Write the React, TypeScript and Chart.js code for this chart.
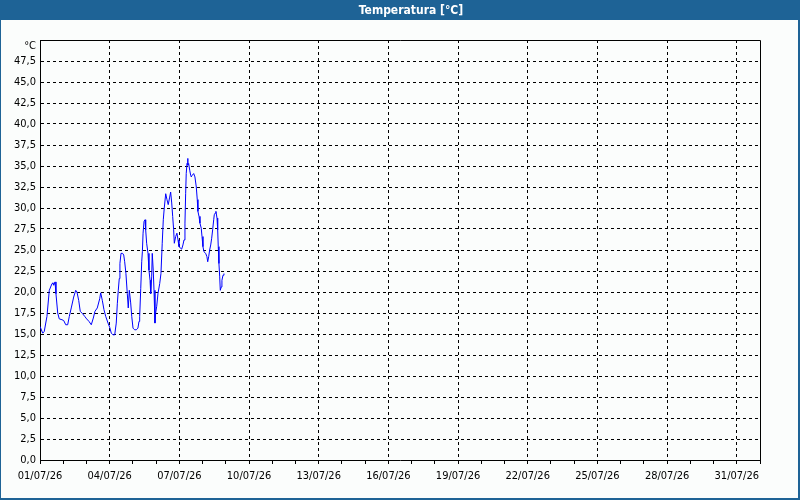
import React, { useEffect, useRef } from 'react';
import { Chart, registerables } from 'chart.js';

Chart.register(...registerables);

const TITLE = 'Temperatura [°C]';
const UNIT = '°C';

// hours since 01/07/26 00:00
const HOURS = [
  0, 2.8, 4.4, 7.2, 9.6, 12.4, 13.4, 14.2, 15.5, 16.5,
  18.3, 19.9, 22.7, 24.5, 26.6, 28.6, 30.3, 32.3, 34.8, 36.9,
  38.2, 40.0, 41.6, 44.1, 46.2, 48.2, 50.6, 53.0, 55.1, 56.8,
  59.2, 61.7, 62.7, 64.4, 66.1, 67.9, 70.3, 72.0, 73.7, 75.4,
  77.2, 78.8, 79.9, 80.9, 81.9, 82.6, 83.7, 85.4, 86.5, 87.5,
  88.8, 90.2, 91.2, 92.3, 93.7, 94.8, 96.1, 97.8, 99.5, 101.2,
  102.3, 103.0, 104.1, 105.1, 105.8, 106.5, 107.5, 108.5, 109.2, 110.2,
  111.6, 112.6, 113.7, 114.4, 115.4, 116.0, 117.0, 117.8, 118.8, 119.5,
  120.6, 121.9, 123.7, 125.0, 126.3, 127.4, 128.4, 129.9, 131.2, 132.5,
  134.0, 135.0, 136.1, 137.1, 138.1, 138.8, 140.2, 141.5, 142.6, 143.6,
  146.4, 147.7, 148.8, 149.8, 150.5, 151.1, 151.9, 152.6, 152.9, 153.6,
  154.7, 155.7, 156.3, 157.3, 158.8, 160.1, 161.5, 162.5, 163.2, 164.3,
  165.3, 166.6, 167.4, 168.4, 169.4, 171.2, 172.5, 173.3, 174.3, 175.3,
  176.4, 177.4, 178.4, 179.5, 180.1, 181.1, 181.8, 182.9, 183.6, 184.2,
  184.9, 185.7, 186.3, 187.3, 188.0, 189.1, 190.1,
];

const TEMPS = [
  15.9, 15.1, 15.3, 17.1, 20.2, 21.0, 21.1, 20.8, 21.2, 19.8,
  17.5, 16.8, 16.7, 16.6, 16.1, 16.1, 17.1, 18.1, 19.4, 20.2,
  20.0, 19.0, 17.7, 17.4, 17.1, 16.8, 16.5, 16.1, 16.9, 17.7,
  18.1, 19.2, 19.9, 19.0, 17.9, 17.1, 16.3, 15.8, 15.1, 14.9,
  14.9, 16.3, 18.6, 20.2, 21.6, 23.4, 24.6, 24.6, 24.4, 23.6,
  22.2, 19.8, 18.1, 20.2, 18.7, 17.1, 15.7, 15.5, 15.5, 15.7,
  16.5, 17.1, 20.4, 23.6, 24.8, 27.0, 28.4, 28.6, 27.4, 25.8,
  24.6, 22.6, 21.4, 19.8, 21.8, 24.6, 22.6, 20.2, 16.3, 17.5,
  18.3, 19.8, 21.0, 22.2, 25.8, 28.6, 30.0, 31.7, 31.0, 30.4,
  31.3, 31.9, 30.6, 29.0, 27.4, 25.8, 26.6, 27.0, 26.2, 25.4,
  25.1, 25.6, 26.2, 28.2, 31.7, 34.1, 35.3, 35.9, 35.1, 35.3,
  34.5, 33.9, 33.7, 33.9, 34.1, 33.7, 32.5, 31.0, 29.6, 29.0,
  28.2, 27.6, 26.6, 25.4, 24.8, 24.6, 24.2, 23.6, 24.2, 25.0,
  25.6, 26.4, 27.4, 28.6, 29.2, 29.4, 29.6, 28.8, 27.4, 25.4,
  23.4, 21.8, 20.2, 20.6, 21.4, 22.0, 22.2,
];

const X_TICK_LABELS = [
  '01/07/26', '04/07/26', '07/07/26', '10/07/26', '13/07/26', '16/07/26',
  '19/07/26', '22/07/26', '25/07/26', '28/07/26', '31/07/26',
];
const X_MAX_HOURS = 744;
const X_MINOR_STEP = 24;
const X_MAJOR_STEP = 72;
const Y_MIN = 0;
const Y_MAX = 50;
const Y_STEP = 2.5;

const FONT = "'DejaVu Sans Condensed', 'DejaVu Sans', sans-serif";

export default function App() {
  const ref = useRef<HTMLCanvasElement>(null);

  useEffect(() => {
    if (!ref.current) return;
    const decor = {
      id: 'decor',
      beforeDraw(chart: any) {
        const { ctx, width, height } = chart;
        ctx.save();
        ctx.fillStyle = '#fbfdfc';
        ctx.fillRect(0, 0, width, height);
        ctx.restore();
      },
      afterDraw(chart: any) {
        const { ctx, chartArea: a } = chart;
        ctx.save();
        ctx.strokeStyle = '#000';
        ctx.lineWidth = 1;
        ctx.setLineDash([]);
        ctx.beginPath();
        ctx.moveTo(a.left, a.top + 0.5);
        ctx.lineTo(a.right + 0.5, a.top + 0.5);
        ctx.lineTo(a.right + 0.5, a.bottom + 1);
        ctx.stroke();
        // frame + title bar
        ctx.fillStyle = '#1e6396';
        ctx.fillRect(0, 0, 800, 20);
        ctx.fillRect(0, 0, 1, 500);
        ctx.fillRect(798, 0, 2, 500);
        ctx.fillRect(0, 498, 800, 2);
        ctx.fillStyle = '#ffffff';
        ctx.font = `bold 12px ${FONT}`;
        ctx.textAlign = 'center';
        ctx.textBaseline = 'middle';
        ctx.fillText(TITLE, 411, 10.5);
        ctx.fillStyle = '#000';
        ctx.font = `11px ${FONT}`;
        ctx.textAlign = 'right';
        ctx.fillText(UNIT, 36, 46);
        ctx.restore();
      },
    };

    const chart = new Chart(ref.current, {
      type: 'line',
      data: {
        datasets: [
          {
            data: HOURS.map((h, i) => ({ x: h, y: TEMPS[i] })),
            borderColor: '#0000ff',
            borderWidth: 1,
            pointRadius: 0,
            tension: 0,
            fill: false,
          },
        ],
      },
      options: {
        animation: false,
        responsive: false,
        devicePixelRatio: 1,
        layout: { padding: { top: 40, right: 40, left: 0, bottom: 0 } },
        plugins: { legend: { display: false }, tooltip: { enabled: false }, title: { display: false } },
        scales: {
          x: {
            type: 'linear',
            min: 0,
            max: X_MAX_HOURS,
            afterFit: (s: any) => { s.height = 40; },
            afterBuildTicks: (s: any) => {
              const t = [];
              for (let v = 0; v <= X_MAX_HOURS; v += X_MINOR_STEP) t.push({ value: v });
              s.ticks = t;
            },
            ticks: {
              autoSkip: false,
              maxRotation: 0,
              minRotation: 0,
              padding: 6,
              color: '#000',
              font: { family: FONT, size: 11 },
              callback: (v: any) => {
                const n = Number(v);
                return n % X_MAJOR_STEP === 0 ? X_TICK_LABELS[n / X_MAJOR_STEP] ?? '' : '';
              },
            },
            grid: {
              color: (c: any) => {
                const v = c.tick ? c.tick.value : 0;
                return v !== 0 && v % X_MAJOR_STEP === 0 && v < X_MAX_HOURS ? '#000' : 'rgba(0,0,0,0)';
              },
              tickColor: '#000',
              tickLength: 4,
              lineWidth: 1,
              drawTicks: true,
            },
            border: { display: true, color: '#000', width: 1, dash: [3, 3] },
          },
          y: {
            type: 'linear',
            min: Y_MIN,
            max: Y_MAX,
            afterFit: (s: any) => { s.width = 40; },
            ticks: {
              stepSize: Y_STEP,
              padding: 4,
              color: '#000',
              font: { family: FONT, size: 11 },
              callback: (v: any) => {
                const n = Number(v);
                return n >= Y_MAX ? '' : n.toFixed(1).replace('.', ',');
              },
            },
            grid: {
              color: (c: any) => {
                const v = c.tick ? c.tick.value : 0;
                return v > Y_MIN && v < Y_MAX ? '#000' : 'rgba(0,0,0,0)';
              },
              drawTicks: false,
              lineWidth: 1,
            },
            border: { display: true, color: '#000', width: 1, dash: [3, 3] },
          },
        },
      },
      plugins: [decor],
    });
    return () => chart.destroy();
  }, []);

  return (
    <canvas
      ref={ref}
      width={800}
      height={500}
      style={{ position: 'absolute', left: 0, top: 0, width: 800, height: 500, display: 'block' }}
    />
  );
}
